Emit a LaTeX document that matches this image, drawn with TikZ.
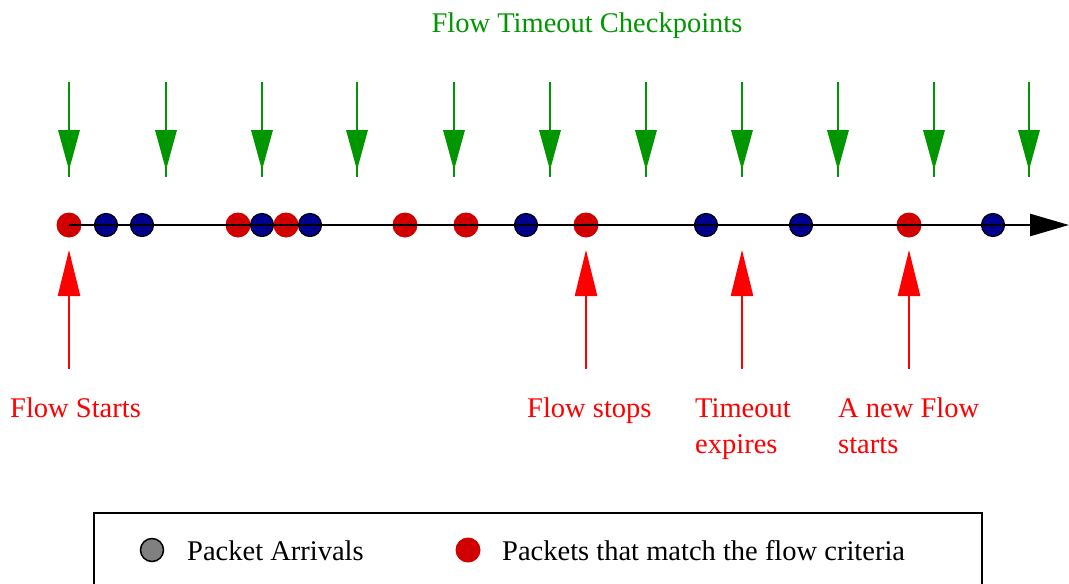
\documentclass[tikz,border=0pt]{standalone}
\usepackage{fontspec}
\setmainfont{Liberation Serif}
\usetikzlibrary{arrows.meta}
\definecolor{gr}{RGB}{0,150,0}
\definecolor{rd}{RGB}{255,0,0}
\definecolor{dred}{RGB}{208,0,0}
\definecolor{nav}{RGB}{0,0,140}
\definecolor{gry}{RGB}{128,128,128}
\begin{document}
\begin{tikzpicture}[x=1pt,y=-1pt,
  bdot/.style={circle,fill=nav,draw=black,line width=1.2pt,minimum size=23pt,inner sep=0pt},
  rdot/.style={circle,fill=dred,minimum size=25pt,inner sep=0pt},
  lbl/.style={font=\fontsize{28.5}{36}\selectfont,inner sep=0pt,anchor=base west,align=left},
  gline/.style={draw=gr,line width=2pt},
  ghead/.style={fill=gr},
  rarrow/.style={draw=rd,line width=2.5pt,-{Triangle[length=46pt,width=22pt]}},
  tline/.style={draw=black,line width=2.5pt,-{Triangle[length=39pt,width=22pt]}},
  legbox/.style={draw=black,line width=2pt}
]
\useasboundingbox (0,0) rectangle (1069,584);
\clip (0,0) rectangle (1069,584);

% title
\node[lbl,text=gr,anchor=base] (title) at (587,32) {Flow Timeout Checkpoints};

% green checkpoint arrows
\foreach \x [count=\i] in {69,166,262,357,454,550,646,742,838,934,1029}{
  \coordinate (gt\i) at (\x,82);
  \coordinate (gb\i) at (\x,177);
  \draw[gline] (gt\i) -- (gb\i);
  \fill[ghead] (\x-11,130) -- (\x+11,130) -- (\x,170) -- cycle;
}

% packets (drawn in x order)
\node[rdot] (p1) at (69,225) {};
\node[bdot] (p2) at (106,225) {};
\node[bdot] (p3) at (142,225) {};
\node[rdot] (p4) at (238,225) {};
\node[bdot] (p5) at (262,225) {};
\node[rdot] (p6) at (286,225) {};
\node[bdot] (p7) at (310,225) {};
\node[rdot] (p8) at (405,225) {};
\node[rdot] (p9) at (466,225) {};
\node[bdot] (p10) at (526,225) {};
\node[rdot] (p11) at (586,225) {};
\node[bdot] (p12) at (706,225) {};
\node[bdot] (p13) at (801,225) {};
\node[rdot] (p14) at (909,225) {};
\node[bdot] (p15) at (993,225) {};

% time axis
\coordinate (tend) at (1069,225);
\draw[tline] (p1.center) -- (tend);

% red event arrows
\foreach \x [count=\i] in {69,586,742,909}{
  \coordinate (rb\i) at (\x,369);
  \coordinate (rt\i) at (\x,250);
  \draw[rarrow] (rb\i) -- (rt\i);
}

% event labels
\node[lbl,text=rd] (l1) at (10,417) {Flow Starts};
\node[lbl,text=rd] (l2) at (527,417) {Flow stops};
\node[lbl,text=rd] (l3) at (695,453) {Timeout\\expires};
\node[lbl,text=rd] (l4) at (838,453) {A new Flow\\starts};

% legend
\draw[legbox] (94,513) rectangle (982,600);
\node[circle,fill=gry,draw=black,line width=1.5pt,minimum size=23pt,inner sep=0pt] (lg1) at (152,550) {};
\node[lbl] (lt1) at (187,560) {Packet Arrivals};
\node[rdot] (lg2) at (468,550) {};
\node[lbl] (lt2) at (502,560) {Packets that match the flow criteria};
\end{tikzpicture}
\end{document}
